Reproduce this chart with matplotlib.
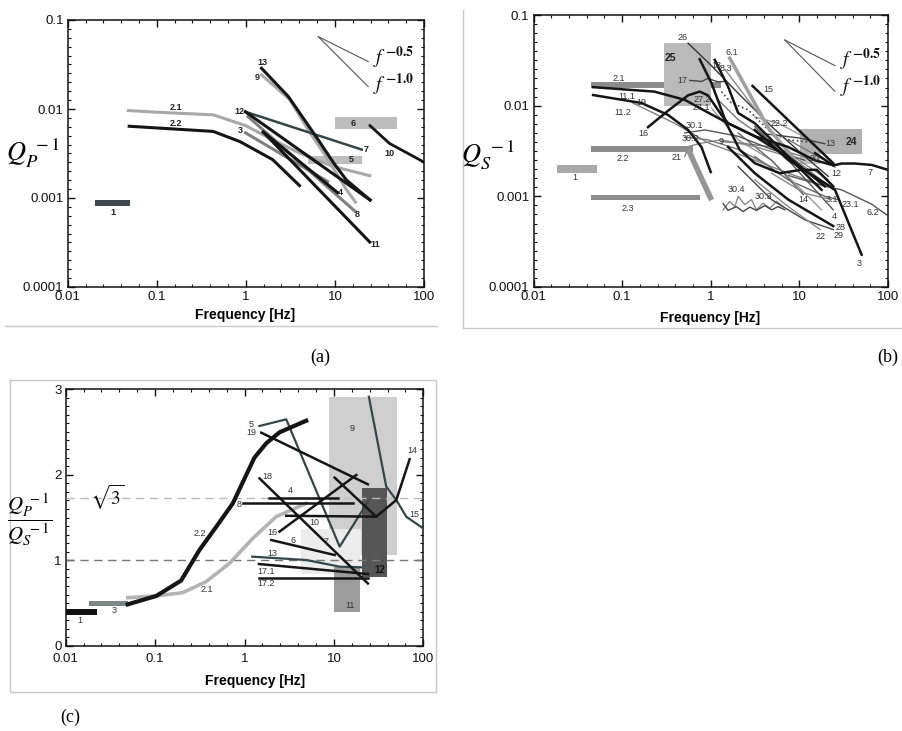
import matplotlib
matplotlib.use("Agg")
import numpy as np
import matplotlib.pyplot as plt
from matplotlib.patches import Rectangle
from matplotlib.lines import Line2D
from matplotlib.ticker import FixedLocator, NullFormatter

plt.rcParams['font.family'] = ['Liberation Sans', 'DejaVu Sans']
plt.rcParams['mathtext.fontset'] = 'stix'

# axis ticks
freq_ticks = [0.01, 0.1, 1, 10, 100]
freq_labels = ['0.01', '0.1', '1', '10', '100']
q_ticks = [0.0001, 0.001, 0.01, 0.1]
q_labels = ['0.0001', '0.001', '0.01', '0.1']
ratio_ticks = [0, 1, 2, 3]

# ---------------- (a) Qp^-1 ----------------
# boxes: [f0, f1, q0, q1]
a_box1 = [0.0202, 0.05, 0.00082, 0.00095]
a_box5 = [5.0, 20.0, 0.0024, 0.0030]
a_box6 = [9.9, 49.5, 0.0059, 0.0082]
a21_f = [0.048, 0.1, 0.43, 1.0, 1.7, 4.0, 9.6, 24.6]
a21_q = [0.0096, 0.0092, 0.0086, 0.0065, 0.0049, 0.0032, 0.00226, 0.00178]
a22_f = [0.049, 0.43, 0.86, 2.0, 4.0]
a22_q = [0.0064, 0.0056, 0.0043, 0.0027, 0.00138]
a3_f = [0.99, 8.3]
a3_q = [0.0054, 0.00153]
a12_f = [0.99, 24.8]
a12_q = [0.0093, 0.00095]
a7_f = [0.99, 20.0]
a7_q = [0.0093, 0.0035]
a13_f = [1.5, 3.0, 6.5, 9.6, 13.4, 24.8]
a13_q = [0.0287, 0.0138, 0.0045, 0.0025, 0.0016, 0.00095]
a9_f = [1.5, 3.1, 5.2, 8.0, 13.4, 17.0]
a9_q = [0.0242, 0.0128, 0.0055, 0.0029, 0.00125, 0.0009]
a4_f = [1.57, 10.7]
a4_q = [0.0055, 0.00115]
a8_f = [1.06, 16.8]
a8_q = [0.0082, 0.00071]
a11_f = [1.57, 24.6]
a11_q = [0.0055, 0.00032]
a10_f = [24.8, 41.0, 100.0]
a10_q = [0.0065, 0.0041, 0.00253]

# ---------------- (b) Qs^-1 ----------------
b_box1 = [0.0184, 0.0524, 0.00182, 0.00219]
b_bar21 = [0.0449, 1.3, 0.0156, 0.0181]
b_bar22 = [0.0449, 0.63, 0.00307, 0.00363]
b_bar23 = [0.0449, 0.75, 0.00092, 0.00104]
b_box25 = [0.297, 1.0, 0.0100, 0.0496]
b_box24 = [10.1, 50.4, 0.00292, 0.00555]
b_box20 = [10.1, 17.1, 0.00226, 0.00292]
b22d_f = [0.555, 1.02]
b22d_q = [0.0033, 0.00091]
b111_f = [0.047, 0.23, 0.51, 0.93, 1.57, 3.14, 7.5, 15.0, 24.1]
b111_q = [0.016, 0.0143, 0.0116, 0.0084, 0.0064, 0.0046, 0.0035, 0.0025, 0.0022]
b112_f = [0.047, 0.165, 0.33, 0.555, 0.785, 1.0]
b112_q = [0.0131, 0.0107, 0.0079, 0.0054, 0.0035, 0.00185]
b16_f = [0.196, 0.33, 0.555, 0.75, 0.93, 1.32, 1.57, 3.14, 7.5, 17.8]
b16_q = [0.0058, 0.0088, 0.013, 0.0143, 0.013, 0.0079, 0.0064, 0.0046, 0.0027, 0.00118]
b19_f = [0.132, 0.39, 0.93, 3.14, 7.5, 19.4]
b19_q = [0.0107, 0.0064, 0.0039, 0.0025, 0.0018, 0.0013]
b17_f = [0.58, 0.79, 0.93, 1.2, 1.5]
b17_q = [0.019, 0.0185, 0.0200, 0.0183, 0.0186]
b17b_f = [0.75, 1.02, 1.32, 1.5, 2.12, 3.14, 6.0, 10.5, 15.7, 24.1]
b17b_q = [0.0325, 0.0177, 0.009, 0.0064, 0.00326, 0.00232, 0.0018, 0.00196, 0.00196, 0.00129]
b26_f = [0.555, 1.0, 2.04, 4.85, 11.5, 21.2]
b26_q = [0.0488, 0.0281, 0.0137, 0.0059, 0.00275, 0.00166]
b61_f = [1.64, 4.5, 8.5]
b61_q = [0.0334, 0.0056, 0.0027]
b15_f = [2.96, 24.1]
b15_q = [0.0165, 0.00232]
b13_f = [4.0, 10.0, 19.4]
b13_q = [0.0049, 0.0044, 0.0038]
b7_f = [15.0, 24.1, 29.9, 42.4, 65.3, 100.0]
b7_q = [0.0030, 0.00219, 0.0023, 0.0023, 0.00222, 0.00196]
b62_f = [7.48, 19.4, 29.9, 65.3, 100.0]
b62_q = [0.0017, 0.00129, 0.00118, 0.00082, 0.00061]
b3_f = [3.14, 7.48, 19.4, 25.2, 50.4]
b3_q = [0.0054, 0.00252, 0.0014, 0.00118, 0.000227]
b231_f = [3.14, 7.48, 19.4, 27.3]
b231_q = [0.00275, 0.00152, 0.0010, 0.00092]
b304_f = [1.38, 1.64, 1.87, 2.04, 2.42, 2.88, 3.28, 3.90, 4.64, 5.52, 6.56]
b304_q = [0.00071, 0.00088, 0.00077, 0.001, 0.00081, 0.00092, 0.00071, 0.00084, 0.00074, 0.00088, 0.00077]
b303_f = [1.38, 1.57, 1.95, 2.32, 2.76, 3.28, 4.07, 4.85, 5.77, 6.86]
b303_q = [0.00083, 0.0007, 0.00077, 0.00068, 0.00076, 0.0007, 0.00079, 0.00071, 0.00077, 0.00071]
b18_f = [1.11, 1.57, 2.04, 3.14, 7.5, 19.4]
b18_q = [0.032, 0.0162, 0.0083, 0.0064, 0.00275, 0.00129]
b83_f = [1.46, 7.5, 21.2]
b83_q = [0.0248, 0.0030, 0.00152]
b272_f = [1.21, 2.04, 4.85, 11.5, 24.1]
b272_q = [0.0116, 0.0070, 0.0039, 0.0021, 0.00118]
b271_f = [1.02, 2.04, 4.85, 17.8]
b271_q = [0.0094, 0.0042, 0.0025, 0.00071]
bdot_f = [1.32, 1.71, 2.64, 4.85, 7.5, 15.0]
bdot_q = [0.0143, 0.0107, 0.009, 0.005, 0.0042, 0.0039]
b9_f = [1.32, 2.04, 4.85, 11.5]
b9_q = [0.0040, 0.0039, 0.0035, 0.0027]
b14_f = [2.04, 4.85, 11.1]
b14_q = [0.0050, 0.0025, 0.00104]
b4_f = [3.14, 7.5, 24.1]
b4_q = [0.0059, 0.0025, 0.00071]
b28_f = [1.57, 3.14, 7.5, 24.1]
b28_q = [0.0035, 0.0018, 0.00092, 0.00047]
b29_f = [2.04, 4.85, 11.5, 24.1]
b29_q = [0.00213, 0.00092, 0.00055, 0.00043]
b22_f = [3.14, 7.5, 17.1]
b22_q = [0.00152, 0.00077, 0.00043]
b12_f = [7.5, 19.4, 25.2]
b12_q = [0.0042, 0.0025, 0.0021]
b21_f = [0.51, 0.555, 0.785, 1.32, 3.14, 7.5]
b21_q = [0.00275, 0.00354, 0.00386, 0.0042, 0.00354, 0.00275]
b301_f = [0.51, 0.86, 2.04, 4.85, 11.5]
b301_q = [0.0050, 0.0054, 0.0046, 0.0033, 0.0025]
b302_f = [0.51, 0.93, 2.04, 4.85]
b302_q = [0.0045, 0.0042, 0.0033, 0.0021]
b31_f = [4.85, 11.5, 23.0]
b31_q = [0.0018, 0.00108, 0.00092]
b222_f = [3.14, 5.77, 11.5]
b222_q = [0.0075, 0.0064, 0.0045]

# ---------------- (c) Qp^-1 / Qs^-1 ----------------
c_box1 = [0.0098, 0.0222, 0.36, 0.43]
c_box3 = [0.0184, 0.0494, 0.47, 0.53]
c_box9 = [8.9, 50.7, 1.06, 2.91]
c_box10 = [4.3, 20.2, 0.84, 1.36]
c_box11 = [10.0, 19.8, 0.40, 0.93]
c_box12 = [20.8, 39.2, 0.80, 1.85]
c22_f = [0.0494, 0.103, 0.195, 0.313, 0.482, 0.74, 1.29, 1.75, 2.46, 4.9]
c22_r = [0.486, 0.584, 0.763, 1.12, 1.39, 1.665, 2.198, 2.366, 2.494, 2.63]
c21_f = [0.0494, 0.103, 0.204, 0.372, 0.679, 1.24, 2.26, 4.9]
c21_r = [0.564, 0.584, 0.623, 0.751, 0.965, 1.257, 1.51, 1.665]
c5_f = [1.47, 2.93, 11.6, 24.0]
c5_r = [2.568, 2.646, 1.16, 1.685]
c19_f = [1.54, 24.0]
c19_r = [2.49, 1.887]
c18_f = [1.47, 24.0]
c18_r = [1.957, 0.73]
c4_f = [1.9, 11.1]
c4_r = [1.73, 1.73]
c8_f = [0.96, 16.3]
c8_r = [1.665, 1.665]
c10_f = [2.93, 29.7]
c10_r = [1.52, 1.51]
c16_f = [2.46, 17.8]
c16_r = [1.335, 1.996]
c14_f = [10.2, 29.7, 49.9, 70.3]
c14_r = [1.965, 1.51, 1.704, 2.18]
c15_f = [24.6, 38.5, 49.9, 64.4, 99.3]
c15_r = [2.91, 1.86, 1.704, 1.51, 1.374]
c6_f = [1.99, 10.2]
c6_r = [1.237, 1.062]
c13_f = [1.22, 4.9, 11.6, 20.2]
c13_r = [1.043, 1.004, 0.926, 0.918]
c171_f = [1.45, 24.0]
c171_r = [0.957, 0.84]
c172_f = [1.45, 24.0]
c172_r = [0.798, 0.798]

BLACK = '#151515'
DARK = '#34474a'
MID = '#808080'
LIGHT = '#a8a8a8'

W, H = 902, 731
fig = plt.figure(figsize=(W / 100, H / 100), dpi=100)


def fx(px):
    return px / W


def fy(py):
    return 1 - py / H


def box(ax, r, color, z=1):
    ax.add_patch(Rectangle((r[0], r[2]), r[1] - r[0], r[3] - r[2],
                           facecolor=color, edgecolor='none', zorder=z))


def lab(ax, x, y, s, size=6.5, weight='normal', color='#222222'):
    ax.text(x, y, s, ha='center', va='center', fontsize=size,
            fontweight=weight, color=color, zorder=20)


def style_axes(ax):
    for sp in ax.spines.values():
        sp.set_linewidth(1.1)
        sp.set_color('#111111')
    ax.tick_params(which='both', direction='in', top=True, right=True,
                   labelsize=9.5, colors='#111111')
    ax.tick_params(which='major', length=5, width=1, pad=3)
    ax.tick_params(which='minor', length=2.5, width=0.8)


def setup_log(ax):
    ax.set_xscale('log')
    ax.set_yscale('log')
    ax.set_xlim(0.01, 100)
    ax.set_ylim(1e-4, 0.1)
    ax.set_xticks(freq_ticks)
    ax.set_xticklabels(freq_labels)
    ax.set_yticks(q_ticks)
    ax.set_yticklabels(q_labels)
    ax.xaxis.set_minor_locator(FixedLocator(10 ** np.arange(-2, 2.01, 0.2)))
    ax.yaxis.set_minor_locator(FixedLocator(10 ** np.arange(-4, -0.99, 0.1)))
    ax.xaxis.set_minor_formatter(NullFormatter())
    ax.yaxis.set_minor_formatter(NullFormatter())
    style_axes(ax)


def slopes(ax, f0, q0, f1, tx, ty05, ty10):
    for p in (0.5, 1.0):
        ax.plot([f0, f1], [q0, q0 * (f1 / f0) ** (-p)], color='#555555', lw=0.8, zorder=5)
    ax.text(tx, ty05, r'$f^{\,\mathbf{-0.5}}$', fontsize=14, ha='left', va='center', color='#111111')
    ax.text(tx, ty10, r'$f^{\,\mathbf{-1.0}}$', fontsize=14, ha='left', va='center', color='#111111')


# ================= panel (a) =================
axa = fig.add_axes([fx(67.7), fy(287), fx(424) - fx(67.7), fy(20) - fy(287)])
setup_log(axa)
box(axa, a_box1, '#3f4b4e')
box(axa, a_box5, '#bdbdbd')
box(axa, a_box6, '#bdbdbd')
axa.plot(a21_f, a21_q, color=LIGHT, lw=2.2)
axa.plot(a22_f, a22_q, color=BLACK, lw=2.2)
axa.plot(a9_f, a9_q, color=LIGHT, lw=2.2)
axa.plot(a3_f, a3_q, color=MID, lw=2.2)
axa.plot(a8_f, a8_q, color=MID, lw=2.2)
axa.plot(a7_f, a7_q, color=DARK, lw=1.8)
axa.plot(a12_f, a12_q, color=BLACK, lw=2.2)
axa.plot(a13_f, a13_q, color=BLACK, lw=2.2)
axa.plot(a4_f, a4_q, color=BLACK, lw=2.2)
axa.plot(a11_f, a11_q, color=BLACK, lw=2.2)
axa.plot(a10_f, a10_q, color=BLACK, lw=2.0)
slopes(axa, 6.5, 0.065, 23.6, 27, 0.037, 0.0185)
for x, y, s in [(1.53, 0.0332, '13'), (1.34, 0.0227, '9'), (0.164, 0.0104, '2.1'),
                (0.164, 0.0069, '2.2'), (0.84, 0.0094, '12'), (0.86, 0.0057, '3'),
                (15.9, 0.0069, '6'), (22.6, 0.0035, '7'), (41, 0.0032, '10'),
                (15.2, 0.0027, '5'), (11.4, 0.00115, '4'), (17.7, 0.00066, '8'),
                (28.6, 0.0003, '11'), (0.0325, 0.00069, '1')]:
    lab(axa, x, y, s, size=6.5, weight='bold')

# ================= panel (b) =================
axb = fig.add_axes([fx(533.5), fy(287), fx(888) - fx(533.5), fy(15) - fy(287)])
setup_log(axb)
box(axb, b_box1, '#a9a9a9')
box(axb, b_bar21, '#8c8c8c')
box(axb, b_bar22, '#8c8c8c')
box(axb, b_bar23, '#8c8c8c')
box(axb, b_box25, '#bababa', z=2)
box(axb, b_box24, '#b0b0b0', z=2)
box(axb, b_box20, '#c4c4c4', z=2)
axb.plot(b22d_f, b22d_q, color='#959595', lw=4, zorder=3, solid_capstyle='butt')

thin = [(b19_f, b19_q, MID), (b17_f, b17_q, '#444444'), (b26_f, b26_q, '#333333'),
        (b13_f, b13_q, '#444444'), (b62_f, b62_q, '#555555'), (b231_f, b231_q, '#666666'),
        (b304_f, b304_q, '#8a8a8a'), (b303_f, b303_q, '#444444'), (b83_f, b83_q, '#888888'),
        (b272_f, b272_q, '#777777'), (b271_f, b271_q, '#999999'), (b9_f, b9_q, '#777777'),
        (b14_f, b14_q, '#666666'), (b4_f, b4_q, '#555555'), (b29_f, b29_q, '#444444'),
        (b22_f, b22_q, '#888888'), (b12_f, b12_q, '#777777'), (b21_f, b21_q, '#888888'),
        (b301_f, b301_q, '#555555'), (b302_f, b302_q, '#777777'), (b31_f, b31_q, '#888888'),
        (b222_f, b222_q, '#999999')]
for f, q, c in thin:
    axb.plot(f, q, color=c, lw=1.0, zorder=4)
axb.plot(bdot_f, bdot_q, color='#444444', lw=1.2, ls=':', zorder=4)
axb.plot(b61_f, b61_q, color='#a0a0a0', lw=2.6, zorder=4)
thick = [(b111_f, b111_q), (b112_f, b112_q), (b16_f, b16_q), (b17b_f, b17b_q),
         (b15_f, b15_q), (b7_f, b7_q), (b3_f, b3_q), (b18_f, b18_q), (b28_f, b28_q)]
for f, q in thick:
    axb.plot(f, q, color=BLACK, lw=1.8, zorder=5)
slopes(axb, 6.85, 0.053, 25.2, 28.6, 0.032, 0.016)
for x, y, s in [(0.487, 0.0563, '26'), (1.71, 0.0388, '6.1'), (1.16, 0.0276, '18'),
                (1.5, 0.0255, '8.3'), (0.092, 0.0197, '2.1'), (0.478, 0.0189, '17'),
                (4.44, 0.0149, '15'), (0.113, 0.0126, '11.1'), (0.165, 0.0108, '19'),
                (0.103, 0.0084, '11.2'), (0.8, 0.0116, '27.2'), (0.785, 0.0096, '27.1'),
                (0.172, 0.0049, '16'), (0.65, 0.006, '30.1'), (0.585, 0.0043, '30.2'),
                (0.103, 0.0026, '2.2'), (0.41, 0.0027, '21'), (1.32, 0.0040, '9'),
                (5.9, 0.0064, '22.2'), (22.5, 0.0038, '13'), (14.9, 0.0026, '20'),
                (26.3, 0.0018, '12'), (62.9, 0.00185, '7'), (0.0291, 0.0016, '1'),
                (1.95, 0.0012, '30.4'), (3.9, 0.001, '30.3'), (0.116, 0.00073, '2.3'),
                (11.0, 0.00092, '14'), (23.0, 0.00092, '3.1'), (38.0, 0.00082, '23.1'),
                (68.0, 0.00067, '6.2'), (24.5, 0.0006, '4'), (29.0, 0.00045, '28'),
                (28.0, 0.00037, '29'), (17.4, 0.00036, '22'), (47.0, 0.00018, '3')]:
    lab(axb, x, y, s, size=6.5, color='#333333')
lab(axb, 0.354, 0.0334, '25', size=7.5, weight='bold')
lab(axb, 38.9, 0.0040, '24', size=7.5, weight='bold')

# ================= panel (c) =================
axc = fig.add_axes([fx(65.7), fy(646), fx(423.3) - fx(65.7), fy(389) - fy(646)])
axc.set_xscale('log')
axc.set_xlim(0.01, 100)
axc.set_ylim(0, 3)
axc.set_xticks(freq_ticks)
axc.set_xticklabels(freq_labels)
axc.set_yticks(ratio_ticks)
axc.xaxis.set_minor_locator(FixedLocator(10 ** np.arange(-2, 2.01, 0.2)))
axc.yaxis.set_minor_locator(FixedLocator(np.arange(0, 3.01, 0.1)))
axc.xaxis.set_minor_formatter(NullFormatter())
style_axes(axc)
axc.tick_params(axis='x', which='major', pad=5)

box(axc, c_box9, '#cfcfcf')
box(axc, c_box10, '#ececec')
box(axc, c_box11, '#9c9c9c')
box(axc, c_box12, '#565656')
axc.axhline(1.0, color='#777777', lw=1.0, ls=(0, (6, 4)), zorder=3)
axc.axhline(np.sqrt(3), color='#bbbbbb', lw=1.0, ls=(0, (6, 4)), zorder=3)
box(axc, c_box1, '#111111', z=4)
box(axc, c_box3, '#7b8787', z=4)
axc.plot(c21_f, c21_r, color='#b3b3b3', lw=2.6, zorder=5)
axc.plot(c22_f, c22_r, color=BLACK, lw=3.0, zorder=6)
axc.plot(c5_f, c5_r, color=DARK, lw=1.6, zorder=5)
axc.plot(c15_f, c15_r, color=DARK, lw=1.6, zorder=5)
axc.plot(c13_f, c13_r, color=DARK, lw=1.6, zorder=5)
for f, r in [(c19_f, c19_r), (c18_f, c18_r), (c4_f, c4_r), (c8_f, c8_r), (c10_f, c10_r),
             (c16_f, c16_r), (c14_f, c14_r), (c6_f, c6_r), (c171_f, c171_r), (c172_f, c172_r)]:
    axc.plot(f, r, color=BLACK, lw=1.8, zorder=6)
axc.text(0.0295, 1.73, r'$\sqrt{3}$', fontsize=14, ha='center', va='center', color='#111111')
for x, y, s in [(1.2, 2.59, '5'), (1.2, 2.49, '19'), (1.79, 1.98, '18'), (3.24, 1.81, '4'),
                (0.86, 1.65, '8'), (6.07, 1.44, '10'), (2.07, 1.32, '16'), (3.47, 1.23, '6'),
                (8.2, 1.22, '7'), (2.04, 1.08, '13'), (1.75, 0.87, '17.1'), (1.75, 0.73, '17.2'),
                (0.313, 1.31, '2.2'), (0.38, 0.665, '2.1'), (0.0143, 0.30, '1'),
                (0.035, 0.41, '3'), (15.9, 2.54, '9'), (74.5, 2.28, '14'), (78.5, 1.53, '15'),
                (15.2, 0.47, '11')]:
    lab(axc, x, y, s, size=6.5, color='#333333')
lab(axc, 32.5, 0.89, '12', size=7, weight='bold', color='#111111')

# axis titles
fig.text(fx(245), fy(315), 'Frequency [Hz]', ha='center', va='center', fontsize=10, fontweight='bold')
fig.text(fx(710), fy(318), 'Frequency [Hz]', ha='center', va='center', fontsize=10, fontweight='bold')
fig.text(fx(255), fy(681), 'Frequency [Hz]', ha='center', va='center', fontsize=10, fontweight='bold')
fig.text(fx(33), fy(153), r'$Q_P^{\ -1}$', ha='center', va='center', fontsize=19)
fig.text(fx(488), fy(155), r'$Q_S^{\ -1}$', ha='center', va='center', fontsize=19)
fig.text(fx(30), fy(520), r'$\dfrac{Q_P^{\ -1}}{Q_S^{\ -1}}$', ha='center', va='center', fontsize=15)

# panel letters
fig.text(fx(320), fy(357), '(a)', ha='center', va='center', fontsize=13, family='Liberation Serif')
fig.text(fx(888), fy(357), '(b)', ha='center', va='center', fontsize=13, family='Liberation Serif')
fig.text(fx(70), fy(717), '(c)', ha='center', va='center', fontsize=13, family='Liberation Serif')

# light frames around the panels
frame = dict(color='#c8c8c8', lw=1.0, transform=fig.transFigure)
fig.add_artist(Line2D([fx(5), fx(437)], [fy(326), fy(326)], **frame))
fig.add_artist(Line2D([fx(463), fx(463), fx(902)], [fy(10), fy(328), fy(328)], **frame))
fig.add_artist(Line2D([fx(9.5), fx(436), fx(436), fx(9.5), fx(9.5)],
                      [fy(380), fy(380), fy(692), fy(692), fy(380)], **frame))

fig.savefig('out.png', dpi=100)
